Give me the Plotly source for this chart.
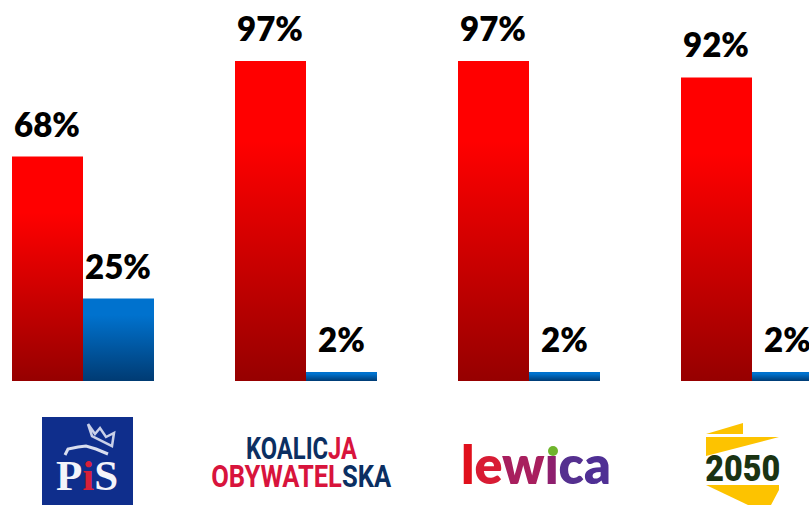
import plotly.graph_objects as go

parties = ["PiS", "Koalicja Obywatelska", "Lewica", "Polska 2050"]
red_values = [68, 97, 97, 92]
blue_values = [25, 2.7, 2.7, 2.7]
red_labels = ["68%", "97%", "97%", "92%"]
blue_labels = ["25%", "2%", "2%", "2%"]

W, H = 809, 505
PX_PER_UNIT = 3.3
BASE_Y = 381
GROUP_STEP = 223
FIRST_CENTER = 83
BAR_W = 71


def px(x):
    return x / W


def py(y):
    return 1 - y / H


def path(points):
    return "M " + " L ".join(f"{px(x):.5f} {py(y):.5f}" for x, y in points) + " Z"


def open_path(points):
    return "M " + " L ".join(f"{px(x):.5f} {py(y):.5f}" for x, y in points)


fig = go.Figure()
fig.add_bar(x=parties, y=red_values, marker=dict(color="#d00000", line_width=0), name="red", showlegend=False)
fig.add_bar(x=parties, y=blue_values, marker=dict(color="#0060b0", line_width=0), name="blue", showlegend=False)

annotations = []
label_font = dict(family="Lato, Carlito, sans-serif", size=33, color="#000000", weight=800)
for party, value, label in zip(parties, red_values, red_labels):
    annotations.append(dict(x=party, y=value, text=label, xref="x", yref="y", showarrow=False,
                            xshift=-36, yshift=11, yanchor="bottom", xanchor="center", font=label_font))
for party, value, label in zip(parties, blue_values, blue_labels):
    annotations.append(dict(x=party, y=value, text=label, xref="x", yref="y", showarrow=False,
                            xshift=35, yshift=11, yanchor="bottom", xanchor="center", font=label_font))


def logo_text(x, y, text, family, size, color="#000000", weight="bold"):
    annotations.append(dict(x=px(x), y=py(y), xref="paper", yref="paper", text=text, showarrow=False,
                            xanchor="center", yanchor="middle",
                            font=dict(family=family, size=size, color=color, weight=weight)))


logo_text(87, 475, 'P<span style="color:#d8203a">i</span>S', "Liberation Serif", 43, "#f4f4fa")
logo_text(301, 448, '<span style="color:#0b2f62">KOALIC</span><span style="color:#d8143c">JA</span>',
          "Roboto", 31)
logo_text(301, 476, '<span style="color:#d8143c">OBYWATEL</span><span style="color:#0b2f62">SKA</span>',
          "Roboto", 31)
logo_text(536, 464,
          '<span style="color:#e0101c">l</span><span style="color:#d81c34">e</span>'
          '<span style="color:#a81f5e">w</span><span style="color:#8e1f6e">ı</span>'
          '<span style="color:#55308f">c</span><span style="color:#4f2f94">a</span>',
          "Lato", 52, weight=800)
logo_text(742, 469, "2050", "Roboto", 36, "#1a3312", weight=900)

shapes = [
    dict(type="rect", xref="paper", yref="paper", x0=px(42), x1=px(133), y0=py(417), y1=py(505),
         fillcolor="#0f2e8c", line_width=0),
    dict(type="path", xref="paper", yref="paper",
         path=open_path([(88, 424), (92, 436), (112, 446), (114, 433), (106, 437), (100, 428), (95, 434), (88, 424)]),
         line=dict(color="#c9d0e8", width=2.5), fillcolor="rgba(0,0,0,0)"),
    dict(type="path", xref="paper", yref="paper",
         path=open_path([(65, 455), (68, 449), (78, 447), (86, 446), (96, 449), (108, 454)]),
         line=dict(color="#d9deef", width=3), fillcolor="rgba(0,0,0,0)"),
    dict(type="circle", xref="paper", yref="paper", x0=px(548), x1=px(558), y0=py(446), y1=py(456),
         fillcolor="#6fb52c", line_width=0),
    dict(type="path", xref="paper", yref="paper", path=path([(706, 434), (743, 423), (743, 434)]),
         fillcolor="#fdc300", line_width=0),
    dict(type="path", xref="paper", yref="paper", path=path([(706, 437), (779, 437), (706, 456)]),
         fillcolor="#fdc300", line_width=0),
    dict(type="path", xref="paper", yref="paper",
         path=path([(706, 485), (779, 485), (779, 490), (771, 505), (748, 505)]),
         fillcolor="#fdc300", line_width=0),
]

fig.update_layout(
    width=W, height=H, autosize=False,
    margin=dict(l=0, r=0, t=0, b=0),
    paper_bgcolor="#ffffff", plot_bgcolor="#ffffff",
    barmode="group", bargap=1 - 2 * BAR_W / GROUP_STEP, bargroupgap=0,
    showlegend=False,
    xaxis=dict(type="category", categoryorder="array", categoryarray=parties, visible=False,
               range=[-FIRST_CENTER / GROUP_STEP, (W - FIRST_CENTER) / GROUP_STEP]),
    yaxis=dict(visible=False, range=[-(H - BASE_Y) / PX_PER_UNIT, BASE_Y / PX_PER_UNIT]),
    annotations=annotations, shapes=shapes,
)

post = """
document.body.style.margin = '0';
var gd = document.getElementById('{plot_id}');
var NS = 'http://www.w3.org/2000/svg';
var svg = gd.querySelector('svg.main-svg');
var defs = svg.querySelector('defs') || svg.insertBefore(document.createElementNS(NS,'defs'), svg.firstChild);
function grad(id, stops) {
  var g = document.createElementNS(NS,'linearGradient');
  g.setAttribute('id', id); g.setAttribute('x1','0'); g.setAttribute('y1','0');
  g.setAttribute('x2','0'); g.setAttribute('y2','1');
  stops.forEach(function(s){
    var st = document.createElementNS(NS,'stop');
    st.setAttribute('offset', s[0]); st.setAttribute('stop-color', s[1]);
    g.appendChild(st);
  });
  defs.appendChild(g);
}
grad('gradRed', [[0,'#ff0000'],[0.25,'#ff0000'],[1,'#960000']]);
grad('gradBlue', [[0,'#0072ce'],[0.2,'#0072ce'],[1,'#003b73']]);
var traces = gd.querySelectorAll('.trace.bars');
['gradRed','gradBlue'].forEach(function(id,i){
  traces[i].querySelectorAll('.point path').forEach(function(p){
    p.style.fill = 'url(#' + id + ')';
  });
});
var fit = {'KOALICJA': 111, 'OBYWATELSKA': 180, '2050': 75};
gd.querySelectorAll('.annotation-text').forEach(function(t){
  var w = fit[t.textContent];
  if (w) {
    t.setAttribute('textLength', w);
    t.setAttribute('lengthAdjust', 'spacingAndGlyphs');
  }
});
"""

fig.write_html("out.html", post_script=post, config=dict(displayModeBar=False))
